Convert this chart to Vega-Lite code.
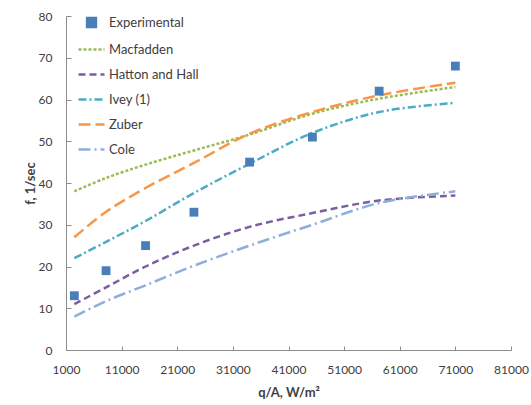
{
  "$schema": "https://vega.github.io/schema/vega-lite/v6.json",
  "width": 445,
  "height": 334,
  "autosize": {"type": "none"},
  "padding": {"left": 66, "top": 16, "right": 20, "bottom": 55},
  "background": "white",
  "config": {
    "view": {"stroke": null},
    "font": "Lato",
    "axis": {
      "grid": false,
      "domainColor": "#8c8c8c",
      "tickColor": "#8c8c8c",
      "labelColor": "#404040",
      "labelFont": "Lato",
      "labelFontSize": 12,
      "titleFont": "Lato",
      "titleFontSize": 13,
      "titleFontWeight": "bold",
      "titleColor": "#404040"
    }
  },
  "data": {
    "values": [
      {"q": 2500, "f": 13, "series": "Experimental"},
      {"q": 8200, "f": 19, "series": "Experimental"},
      {"q": 15300, "f": 25, "series": "Experimental"},
      {"q": 24000, "f": 33, "series": "Experimental"},
      {"q": 34000, "f": 45, "series": "Experimental"},
      {"q": 45300, "f": 51, "series": "Experimental"},
      {"q": 57300, "f": 62, "series": "Experimental"},
      {"q": 71000, "f": 68, "series": "Experimental"},
      {"q": 2500, "f": 38, "series": "Macfadden"},
      {"q": 8200, "f": 41.2, "series": "Macfadden"},
      {"q": 15300, "f": 44.4, "series": "Macfadden"},
      {"q": 24000, "f": 47.8, "series": "Macfadden"},
      {"q": 34000, "f": 51.6, "series": "Macfadden"},
      {"q": 45300, "f": 56.6, "series": "Macfadden"},
      {"q": 57300, "f": 60.2, "series": "Macfadden"},
      {"q": 71000, "f": 63, "series": "Macfadden"},
      {"q": 2500, "f": 11, "series": "Hatton and Hall"},
      {"q": 8200, "f": 15, "series": "Hatton and Hall"},
      {"q": 15300, "f": 20, "series": "Hatton and Hall"},
      {"q": 24000, "f": 25, "series": "Hatton and Hall"},
      {"q": 34000, "f": 29.5, "series": "Hatton and Hall"},
      {"q": 45300, "f": 32.8, "series": "Hatton and Hall"},
      {"q": 57300, "f": 35.8, "series": "Hatton and Hall"},
      {"q": 71000, "f": 37, "series": "Hatton and Hall"},
      {"q": 2500, "f": 22, "series": "Ivey (1)"},
      {"q": 8200, "f": 25.9, "series": "Ivey (1)"},
      {"q": 15300, "f": 30.9, "series": "Ivey (1)"},
      {"q": 24000, "f": 37.6, "series": "Ivey (1)"},
      {"q": 34000, "f": 44.6, "series": "Ivey (1)"},
      {"q": 45300, "f": 52, "series": "Ivey (1)"},
      {"q": 57300, "f": 57, "series": "Ivey (1)"},
      {"q": 71000, "f": 59.2, "series": "Ivey (1)"},
      {"q": 2500, "f": 27, "series": "Zuber"},
      {"q": 8200, "f": 33.1, "series": "Zuber"},
      {"q": 15300, "f": 38.8, "series": "Zuber"},
      {"q": 24000, "f": 44.8, "series": "Zuber"},
      {"q": 34000, "f": 51.8, "series": "Zuber"},
      {"q": 45300, "f": 57, "series": "Zuber"},
      {"q": 57300, "f": 61, "series": "Zuber"},
      {"q": 71000, "f": 64, "series": "Zuber"},
      {"q": 2500, "f": 8, "series": "Cole"},
      {"q": 8200, "f": 11.7, "series": "Cole"},
      {"q": 15300, "f": 15.5, "series": "Cole"},
      {"q": 24000, "f": 20.2, "series": "Cole"},
      {"q": 34000, "f": 25, "series": "Cole"},
      {"q": 45300, "f": 30, "series": "Cole"},
      {"q": 57300, "f": 35.2, "series": "Cole"},
      {"q": 71000, "f": 38, "series": "Cole"}
    ]
  },
  "encoding": {
    "x": {
      "field": "q", "type": "quantitative",
      "scale": {"domain": [1000, 81000], "nice": false, "zero": false},
      "axis": {"values": [1000, 11000, 21000, 31000, 41000, 51000, 61000, 71000, 81000], "format": "d", "title": "q/A, W/m²", "tickSize": -4, "labelPadding": 18, "labelFlush": false, "titleY": 36}
    },
    "y": {
      "field": "f", "type": "quantitative",
      "scale": {"domain": [0, 80], "nice": false},
      "axis": {"values": [0, 10, 20, 30, 40, 50, 60, 70, 80], "title": "f, 1/sec", "tickSize": -5, "labelPadding": 19, "labelFlush": false, "titleX": -36, "titleBaseline": "middle"}
    },
    "color": {
      "field": "series", "type": "nominal",
      "scale": {
        "domain": ["Experimental", "Macfadden", "Hatton and Hall", "Ivey (1)", "Zuber", "Cole"],
        "range": ["#4a7ebb", "#9bbb59", "#7b5ea0", "#4bacc6", "#f79646", "#8eaedb"]
      },
      "legend": {
        "title": null, "orient": "none", "legendX": 11, "legendY": -8,
        "labelFont": "Lato", "labelFontSize": 13, "labelColor": "#404040",
        "symbolSize": 676, "symbolStrokeWidth": 2.5, "rowPadding": 3, "labelOffset": 3, "padding": 0
      }
    }
  },
  "layer": [
    {
      "transform": [{"filter": "datum.series !== 'Experimental'"}],
      "mark": {"type": "line", "interpolate": "catmull-rom", "strokeWidth": 2.5},
      "encoding": {
        "strokeDash": {
          "field": "series", "type": "nominal",
          "scale": {
            "domain": ["Experimental", "Macfadden", "Hatton and Hall", "Ivey (1)", "Zuber", "Cole"],
            "range": [[1, 0], [3, 2], [7, 4], [8, 3, 2, 3], [12, 5], [12, 4, 2, 4]]
          },
          "legend": {"title": null, "orient": "none", "legendX": 11, "legendY": -8, "symbolSize": 676, "symbolStrokeWidth": 2.5, "rowPadding": 3, "padding": 0}
        }
      }
    },
    {
      "transform": [{"filter": "datum.series === 'Experimental'"}],
      "mark": {"type": "point", "filled": true, "opacity": 1, "size": 676},
      "encoding": {
        "shape": {
          "field": "series", "type": "nominal",
          "scale": {
            "domain": ["Experimental", "Macfadden", "Hatton and Hall", "Ivey (1)", "Zuber", "Cole"],
            "range": ["M-0.34,-0.34H0.34V0.34H-0.34Z", "stroke", "stroke", "stroke", "stroke", "stroke"]
          },
          "legend": {"title": null, "orient": "none", "legendX": 11, "legendY": -8, "symbolSize": 676, "symbolStrokeWidth": 2.5, "rowPadding": 3, "padding": 0}
        }
      }
    }
  ]
}
